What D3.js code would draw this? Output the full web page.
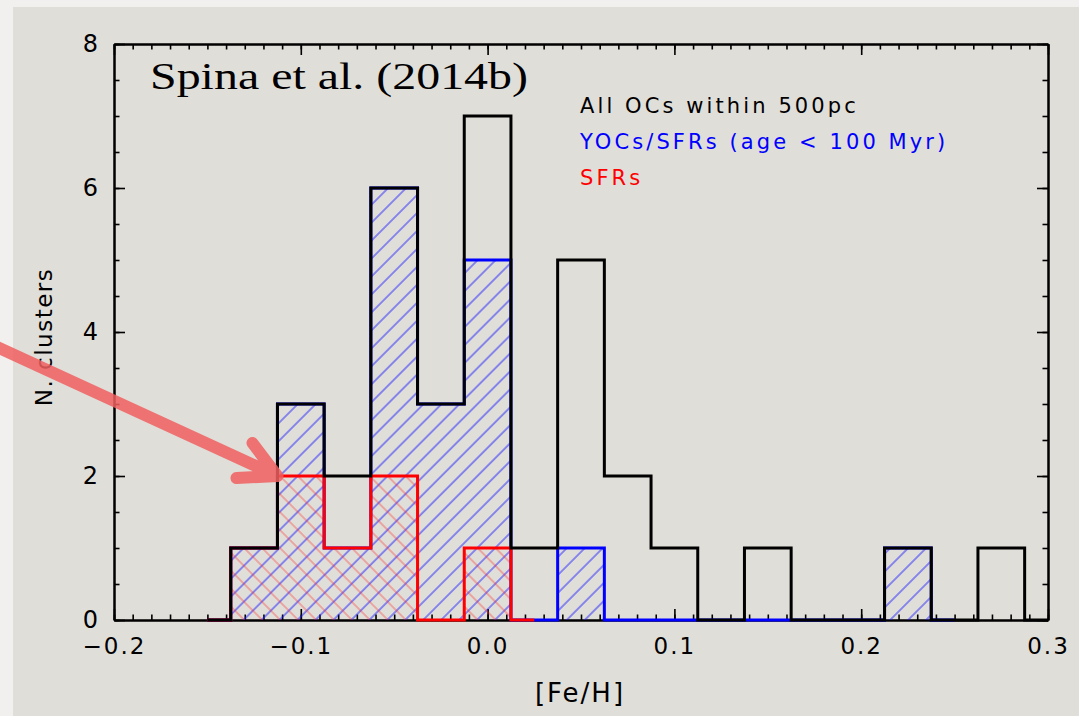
<!DOCTYPE html>
<html lang="en">
<head>
<meta charset="UTF-8">
<script src="https://cdn.jsdelivr.net/npm/d3@7"></script>
<title>[Fe/H] histogram</title>
<style>
  body { margin: 0; background: #f1f0ee; }
  svg { display: block; }
  .legend { font-family: "DejaVu Sans", sans-serif; font-size: 21px; letter-spacing: 3.1px; }
</style>
</head>
<body>
<div id="chart"></div>
<script>
// bin centres of the [Fe/H] histogram (bin width 0.025)
const binCenters = [-0.15, -0.125, -0.1, -0.075, -0.05, -0.025, 0.0, 0.025, 0.05, 0.075,
                    0.1, 0.125, 0.15, 0.175, 0.2, 0.225, 0.25, 0.275, 0.3];
// counts per bin, null = bin not part of that histogram
const allOCs = [0, 1, 3, 2, 6, 3, 7, 1, 5, 2, 1, 0, 1, 0, 0, 1, 0, 1, 0];
const yocs   = [0, 1, 3, 1, 6, 3, 5, 0, 1, 0, 0, 0, 0, 0, 0, 1, 0, null, null];
const sfrs   = [0, 1, 2, 1, 2, 0, 1, 0, null, null, null, null, null, null, null, null, null, null, null];
const binWidth = 0.025;

const xTicks = [-0.2, -0.1, 0.0, 0.1, 0.2, 0.3];
const yTicks = [0, 2, 4, 6, 8];
const legendLabels = ["All OCs within 500pc", "YOCs/SFRs (age < 100 Myr)", "SFRs"];
const legendColors = ["#000000", "#0000ff", "#ff0000"];

const width = 1079, height = 716;
const svg = d3.select('#chart').append('svg')
  .attr('width', width).attr('height', height);

// paper background
svg.append('rect').attr('width', width).attr('height', height).attr('fill', '#f1f0ee');
svg.append('rect').attr('x', 13).attr('y', 7).attr('width', width - 13).attr('height', height - 7)
  .attr('fill', '#e0ded9');

const x = d3.scaleLinear().domain([-0.2, 0.3]).range([114, 1048]);
const y = d3.scaleLinear().domain([0, 8]).range([620, 44]);

// hatch patterns
const defs = svg.append('defs');
function hatch(id, angle, color, op) {
  const p = defs.append('pattern').attr('id', id)
    .attr('patternUnits', 'userSpaceOnUse')
    .attr('width', 12.7).attr('height', 12.7)
    .attr('patternTransform', `rotate(${angle})`);
  p.append('line').attr('x1', 1).attr('y1', 0).attr('x2', 1).attr('y2', 12.7)
    .attr('stroke', color).attr('stroke-width', 1).attr('opacity', op);
}
hatch('hatch-blue', 45, '#1a1aff', 0.9);
hatch('hatch-red', -45, '#ff2020', 0.6);

// axes (ticks pointing inwards on all four sides)
const fmt = d => d === 0 ? '0.0' : d3.format('.1f')(d).replace('-', '\u2212');
function axes(gen, scale, ticks, major, minor, transform, labels, pad, size) {
  const g1 = svg.append('g').attr('transform', transform)
    .call(gen(scale).tickValues(ticks).tickSizeInner(major).tickSizeOuter(0)
      .tickPadding(pad).tickFormat(labels || (() => '')));
  const g2 = svg.append('g').attr('transform', transform)
    .call(gen(scale).tickValues(minor).tickSizeInner(major / 2).tickSizeOuter(0).tickFormat(''));
  [g1, g2].forEach(g => {
    g.select('.domain').attr('stroke', '#000').attr('stroke-width', 2);
    g.selectAll('.tick line').attr('stroke', '#000').attr('stroke-width', 1.6);
  });
  g1.selectAll('.tick text')
    .attr('font-family', '"DejaVu Sans", sans-serif').attr('font-size', size)
    .attr('letter-spacing', 2).attr('fill', '#000');
}
const xMinor = d3.range(-20, 31).map(i => i / 100);
const yMinor = d3.range(0, 17).map(i => i / 2);
axes(d3.axisBottom, x, xTicks, -11, xMinor, `translate(0,${y(0)})`, fmt, 18, 23);
axes(d3.axisTop, x, xTicks, -11, xMinor, `translate(0,${y(8)})`, null, 0, 23);
axes(d3.axisLeft, y, yTicks, -11, yMinor, `translate(${x(-0.2)},0)`, d => d, 14, 24);
axes(d3.axisRight, y, yTicks, -11, yMinor, `translate(${x(0.3)},0)`, null, 0, 24);

// IDL psym=10 style steps
function steps(counts) {
  const pts = [];
  const idx = counts.map((c, i) => c === null ? -1 : i).filter(i => i >= 0);
  idx.forEach((i, k) => {
    const c = binCenters[i];
    const x0 = k === 0 ? c : c - binWidth / 2;
    const x1 = k === idx.length - 1 ? c : c + binWidth / 2;
    pts.push([x0, counts[i]], [x1, counts[i]]);
  });
  return pts;
}
const line = d3.line().x(d => x(d[0])).y(d => y(d[1]));
const area = d3.area().x(d => x(d[0])).y0(y(0)).y1(d => y(d[1]));

svg.append('path').datum(steps(yocs)).attr('d', area).attr('fill', 'url(#hatch-blue)');
svg.append('path').datum(steps(sfrs)).attr('d', area).attr('fill', 'url(#hatch-red)');
[[yocs, '#0000ff'], [sfrs, '#ff0000'], [allOCs, '#000000']].forEach(([s, col]) => {
  svg.append('path').datum(steps(s)).attr('d', line)
    .attr('fill', 'none').attr('stroke', col).attr('stroke-width', 3);
});

// labels
svg.append('text').attr('x', 580).attr('y', 702).attr('text-anchor', 'middle')
  .attr('font-family', '"DejaVu Sans", sans-serif').attr('font-size', 26)
  .attr('letter-spacing', 2).text('[Fe/H]');
svg.append('text').attr('transform', `translate(52,337) rotate(-90)`).attr('text-anchor', 'middle')
  .attr('font-family', '"DejaVu Sans", sans-serif').attr('font-size', 23)
  .attr('letter-spacing', 1.5).text('N. clusters');

svg.append('text').attr('x', 150).attr('y', 89)
  .attr('font-family', '"Liberation Serif", serif').attr('font-size', 38)
  .attr('textLength', 378).attr('lengthAdjust', 'spacingAndGlyphs')
  .text('Spina et al. (2014b)');

svg.selectAll('.legend').data(legendLabels).enter().append('text')
  .attr('class', 'legend')
  .attr('x', 580).attr('y', (d, i) => 113 + i * 36)
  .attr('fill', (d, i) => legendColors[i])
  .text(d => d);

// annotation arrow pointing at the SFR peak
const tip = [x(-0.1125), y(2)];
const arrow = d3.path();
arrow.moveTo(-5, 346); arrow.lineTo(tip[0], tip[1]);
arrow.moveTo(tip[0] - 25, tip[1] - 33); arrow.lineTo(tip[0], tip[1]); arrow.lineTo(tip[0] - 41, tip[1] + 2);
svg.append('path').attr('d', arrow.toString()).attr('fill', 'none')
  .attr('stroke', 'rgba(240,95,95,0.85)').attr('stroke-width', 12)
  .attr('stroke-linecap', 'round').attr('stroke-linejoin', 'round');
</script>
</body>
</html>
